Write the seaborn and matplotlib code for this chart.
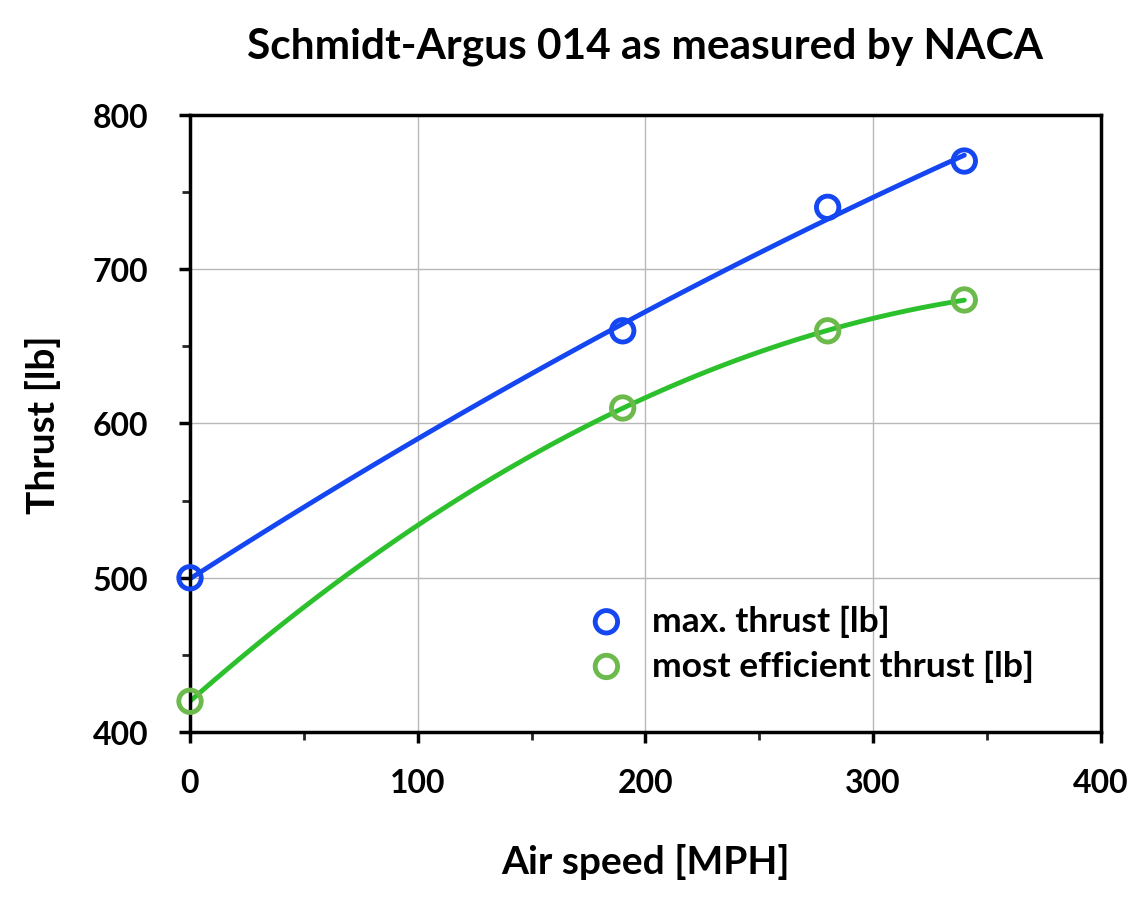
import matplotlib
matplotlib.use('Agg')
import matplotlib.pyplot as plt
import seaborn as sns
import pandas as pd
from matplotlib.ticker import MultipleLocator

speed = [0, 190, 280, 340]
max_thrust = [500, 660, 740, 770]
eff_thrust = [420, 610, 660, 680]

labels = ['max. thrust [lb]', 'most efficient thrust [lb]']
line_colors = ['#1446f2', '#2cc12c']
marker_colors = ['#1446f2', '#6cba4c']

df = pd.DataFrame({'speed': speed, 'max': max_thrust, 'eff': eff_thrust})

sns.set_style('white')
plt.rcParams['font.family'] = ['Lato', 'DejaVu Sans']
plt.rcParams['font.weight'] = 'bold'
plt.rcParams['text.color'] = 'black'
plt.rcParams['axes.labelcolor'] = 'black'

fig = plt.figure(figsize=(11.48, 9.04), dpi=100)
ax = fig.add_axes([0.1655, 0.189, 0.7935, 0.683])

for col, lab, lc, mc in zip(['max', 'eff'], labels, line_colors, marker_colors):
    sns.regplot(data=df, x='speed', y=col, order=2, ci=None, scatter=False,
                truncate=True, ax=ax, line_kws={'color': lc, 'lw': 3.5})
    sns.scatterplot(data=df, x='speed', y=col, ax=ax, label=lab, marker='o',
                    s=260, facecolor='none', edgecolor=mc, linewidth=3.5,
                    zorder=5, clip_on=False)

ax.set_xlim(0, 400)
ax.set_ylim(400, 800)
ax.xaxis.set_major_locator(MultipleLocator(100))
ax.xaxis.set_minor_locator(MultipleLocator(50))
ax.yaxis.set_major_locator(MultipleLocator(100))
ax.yaxis.set_minor_locator(MultipleLocator(50))
ax.grid(True, which='major', color='#b8b8b8', lw=1)
ax.set_axisbelow(True)
for s in ax.spines.values():
    s.set_visible(True)
    s.set_color('black')
    s.set_linewidth(2.5)
ax.tick_params(which='major', direction='out', length=8, width=2.5,
               labelsize=23, left=True, bottom=True, colors='black')
ax.tick_params(axis='x', pad=18)
ax.tick_params(axis='y', pad=22)
ax.tick_params(which='minor', direction='out', length=6, width=2, left=True, bottom=True)
for t in ax.get_xticklabels() + ax.get_yticklabels():
    t.set_fontweight('bold')

ax.set_xlabel('Air speed [MPH]', fontsize=28, fontweight='bold', labelpad=33)
ax.set_ylabel('Thrust [lb]', fontsize=28, fontweight='bold', labelpad=23)
fig.suptitle('Schmidt-Argus 014 as measured by NACA', fontsize=30.5,
             fontweight='bold', x=0.562, y=0.97)

leg = ax.legend(loc='lower right', bbox_to_anchor=(0.962, 0.03), frameon=False,
                fontsize=25.5, handletextpad=0.3, labelspacing=0.35)
for t in leg.get_texts():
    t.set_fontweight('bold')

fig.savefig('out.png', dpi=100)
